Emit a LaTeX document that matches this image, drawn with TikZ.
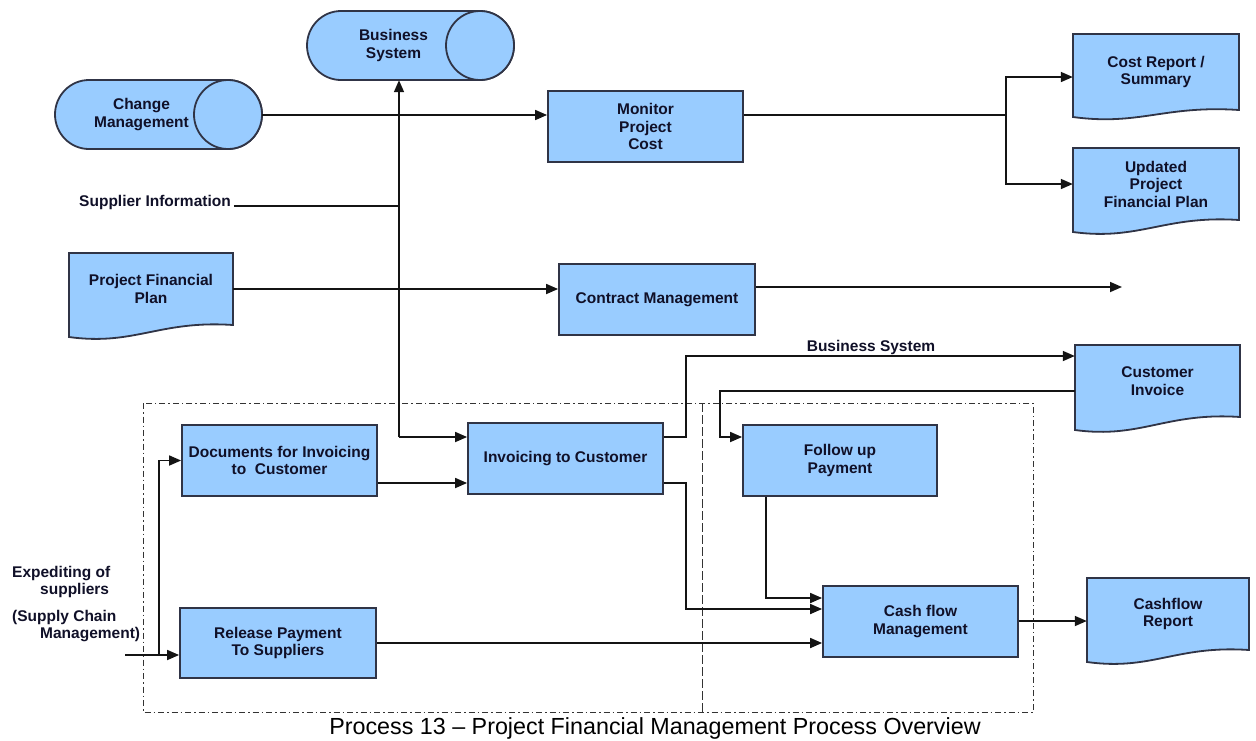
\documentclass[tikz,border=0pt]{standalone}
\usepackage{fontspec}
\setmainfont{Liberation Sans}
\usetikzlibrary{arrows.meta,calc}
\definecolor{fillc}{HTML}{99CCFF}
\definecolor{bordc}{RGB}{48,52,70}
\definecolor{txtc}{RGB}{16,16,40}
\definecolor{linec}{RGB}{20,20,20}
\newcommand\boxfont{\fontsize{15.5}{17.5}\selectfont\bfseries\color{txtc}}
\tikzset{
  box/.style={draw=bordc, fill=fillc, line width=1.8pt, inner sep=0pt, align=center, font=\boxfont},
  shapefill/.style={draw=bordc, fill=fillc, line width=1.8pt},
  doctext/.style={inner sep=0pt, align=center, font=\boxfont},
  lbl/.style={inner sep=3pt, align=center, font=\boxfont},
  conn/.style={draw=linec, line width=1.7pt},
  arr/.style={draw=linec, line width=1.7pt, -{Triangle[length=12pt,width=10pt]}},
  region/.style={draw=black!80, line width=1pt, dash pattern=on 6pt off 3pt on 1.5pt off 3pt},
  divider/.style={draw=black!80, line width=1pt, dash pattern=on 9pt off 3pt},
}
% doc shape: name, x1, x2, ytop, ybotR, ybotL, text
\newcommand\docnode[7]{%
  \filldraw[shapefill] (#2,-#4) -- (#3,-#4) -- (#3,-#5)
    .. controls ({#3-0.45*(#3-#2)},{-#5+5}) and ({#2+0.4*(#3-#2)},{-#6-9}) .. (#2,-#6) -- cycle;
  \node[doctext, minimum width={#3-#2}, minimum height={#5-#4}] (#1) at ({(#2+#3)/2},{-(#4+#5)/2}) {#7};
}
% cylinder: name, xL, xR, ytop, ybot, r, text
\newcommand\cylnode[7]{%
  \filldraw[shapefill] ({#3-#6},-#4) -- ({#2+#6},-#4)
    arc[start angle=90,end angle=270,x radius=#6,y radius={(#5-#4)/2}]
    -- ({#3-#6},-#5)
    arc[start angle=-90,end angle=90,x radius=#6,y radius={(#5-#4)/2}] -- cycle;
  \draw[shapefill] ({#3-#6},{-(#4+#5)/2}) ellipse[x radius=#6, y radius={(#5-#4)/2}];
  \node[inner sep=0pt, minimum width={#3-#2}, minimum height={#5-#4}] (#1) at ({(#2+#3)/2},{-(#4+#5)/2}) {};
  \node[doctext] (#1t) at ({(#2+#3-#6)/2},{-(#4+#5)/2}) {#7};
}
\begin{document}
\begin{tikzpicture}[x=1pt,y=1pt]
\useasboundingbox (0,0) rectangle (1256,-740);

% regions
\draw[region] (143,-403) rectangle (1033,-712);
\draw[divider] (702,-403) -- (702,-712);

% cylinders
\cylnode{bs}{307}{514}{11}{80}{34}{Business\\System}
\cylnode{cm}{55}{262}{80}{149}{34}{Change\\Management}

% documents
\docnode{cr}{1073}{1239}{34}{110}{117}{Cost Report /\\Summary}
\docnode{upd}{1073}{1239}{148}{220}{232}{Updated\\Project\\Financial Plan}
\docnode{pfp}{69}{233}{253}{325}{337}{Project Financial\\Plan}
\docnode{ci}{1075}{1240}{345}{417}{430}{Customer\\Invoice}
\docnode{cfr}{1087}{1249}{578}{650}{662}{Cashflow\\Report}

% process boxes
\node[box, minimum width=195, minimum height=71] (mon) at (645.5,-126.5) {Monitor\\Project\\Cost};
\node[box, minimum width=196, minimum height=71] (con) at (657,-299.5) {Contract Management};
\node[box, minimum width=195, minimum height=71] (doc) at (279.5,-460.5) {Documents for Invoicing\\to~ Customer};
\node[box, minimum width=195, minimum height=71] (inv) at (565.5,-458.5) {Invoicing to Customer};
\node[box, minimum width=194, minimum height=71] (fup) at (840,-460.5) {Follow up\\Payment};
\node[box, minimum width=196, minimum height=70] (rel) at (278,-643) {Release Payment\\To Suppliers};
\node[box, minimum width=195, minimum height=71] (cfm) at (920.5,-621.5) {Cash flow\\Management};

% labels
\node[lbl] (si) at (155,-202) {Supplier Information};
\node[lbl] (bsl) at (871,-347) {Business System};
\node[inner sep=0pt, anchor=north west, align=left, font=\boxfont] (exp) at (12,-566)
  {Expediting of\\\hspace*{28pt}suppliers\\[9pt](Supply Chain\\\hspace*{28pt}Management)};
\node[inner sep=0pt, anchor=base, font=\fontsize{23.3}{26}\selectfont] (cap) at (655,-734)
  {Process 13 -- Project Financial Management Process Overview};

% junction coordinates
\coordinate (j1) at (1006,-115);
\coordinate (j3) at (399,-437);
\coordinate (conout) at (1122,-287);
\coordinate (b1) at (686,-356);
\coordinate (b2) at (720,-391);
\coordinate (b3) at (686,-483);
\coordinate (b4) at (766,-598);
\coordinate (ein) at (125,-655);
\coordinate (b5) at (159,-655);

% connectors
\draw[arr] ([yshift=-0.5pt]cm.east) -- ([yshift=-0.5pt]cm.east -| mon.west);
\draw[conn] (j1 -| mon.east) -- (j1);
\draw[arr] (j1) |- ([yshift=-5pt]cr.west);
\draw[arr] (j1) |- (upd.west);
\draw[conn] (si.base east) -- (si.base east -| j3);
\draw[arr] (j3) -- (j3 |- bs.south);
\draw[arr] (j3) -- (j3 -| inv.west);
\draw[arr] (pfp.east) -- (pfp.east -| con.west);
\draw[arr] (conout -| con.east) -- (conout);
\draw[arr] ([yshift=21.5pt]inv.east) -| (b1) -- (b1 -| ci.west);
\draw[arr] (b2 -| ci.west) -- (b2) |- ([yshift=23.5pt]fup.west);
\draw[arr] ([yshift=-22.5pt]doc.east) -- ([yshift=-22.5pt]doc.east -| inv.west);
\draw[arr] (b3 -| inv.east) -- (b3) |- ([yshift=12.5pt]cfm.west);
\draw[arr] (b4 |- fup.south) -- (b4) -- (b4 -| cfm.west);
\draw[arr] (rel.east) -- (rel.east -| cfm.west);
\draw[arr] ([yshift=0.5pt]cfm.east) -- ([yshift=0.5pt]cfm.east -| cfr.west);
\draw[arr] (ein) -- (ein -| rel.west);
\draw[arr] (b5) |- (doc.west);
\end{tikzpicture}
\end{document}
